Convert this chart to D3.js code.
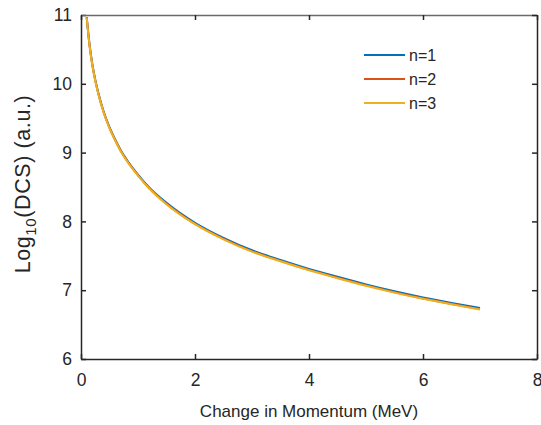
<!DOCTYPE html>
<html><head><meta charset="utf-8">
<script src="https://cdn.jsdelivr.net/npm/d3@7"></script>
<style>body{margin:0;background:#fff}svg{display:block}text{font-family:"Liberation Sans",Arial,Helvetica,sans-serif;fill:#262626}</style>
</head><body>
<script>
const xValues = [0.1,0.15,0.2,0.25,0.3,0.4,0.5,0.6,0.7,0.8,1.0,1.2,1.5,2,2.5,3,3.5,4,4.5,5,5.5,6,6.5,7];
const n1 = [10.97,10.57,10.28,10.06,9.88,9.59,9.37,9.19,9.03,8.90,8.68,8.49,8.27,7.98,7.76,7.58,7.44,7.31,7.195,7.085,6.985,6.895,6.815,6.74];
const n2 = [10.96,10.56,10.27,10.05,9.87,9.58,9.36,9.18,9.02,8.89,8.67,8.48,8.255,7.965,7.745,7.565,7.425,7.295,7.18,7.07,6.97,6.88,6.80,6.725];
const n3 = [10.96,10.555,10.265,10.045,9.865,9.575,9.355,9.175,9.015,8.885,8.665,8.475,8.25,7.96,7.74,7.56,7.42,7.29,7.175,7.065,6.965,6.875,6.795,6.72];
const seriesNames = ["n=1","n=2","n=3"];
const colors = ["#0072BD","#D95319","#EDB120"];
const xTicks = [0,2,4,6,8];
const yTicks = [6,7,8,9,10,11];

const W=541,H=425, L=81, R=537, T=15, B=359;
const svg=d3.select("body").append("svg").attr("width",W).attr("height",H);
const x=d3.scaleLinear().domain([0,8]).range([L,R]);
const y=d3.scaleLinear().domain([6,11]).range([B,T]);
const ax="#262626";
const fmt=d3.format("d");

svg.append("g").attr("transform",`translate(0,${B})`).call(d3.axisBottom(x).tickValues(xTicks).tickFormat(fmt).tickSize(-5).tickSizeOuter(0))
  .call(g=>{g.select(".domain").attr("stroke",ax).attr("stroke-width",1.5);g.selectAll("line").attr("stroke",ax).attr("stroke-width",1.5);g.selectAll("text").attr("font-size",17.5).attr("fill",ax).attr("dy","0.71em").attr("y",15);});
svg.append("g").attr("transform",`translate(${L},0)`).call(d3.axisLeft(y).tickValues(yTicks).tickFormat(fmt).tickSize(-5).tickSizeOuter(0))
  .call(g=>{g.select(".domain").attr("stroke",ax).attr("stroke-width",1.5);g.selectAll("line").attr("stroke",ax).attr("stroke-width",1.5);g.selectAll("text").attr("font-size",17.5).attr("fill",ax).attr("x",-9);});
svg.append("g").attr("transform",`translate(0,${T})`).call(d3.axisTop(x).tickValues(xTicks).tickSize(-5).tickFormat("").tickSizeOuter(0))
  .call(g=>{g.select(".domain").attr("stroke","#6a6a6a").attr("stroke-width",1.5);g.selectAll("line").attr("stroke",ax).attr("stroke-width",1.5);});
svg.append("g").attr("transform",`translate(${R},0)`).call(d3.axisRight(y).tickValues(yTicks).tickSize(-5).tickFormat("").tickSizeOuter(0))
  .call(g=>{g.select(".domain").attr("stroke",ax).attr("stroke-width",1.5);g.selectAll("line").attr("stroke",ax).attr("stroke-width",1.5);});

const line=d3.line().x(d=>x(d[0])).y(d=>y(d[1])).curve(d3.curveMonotoneX);
[n1,n2,n3].forEach((s,i)=>{
  svg.append("path").datum(xValues.map((v,j)=>[v,s[j]])).attr("d",line).attr("fill","none").attr("stroke",colors[i]).attr("stroke-width",2);
});

seriesNames.forEach((nm,i)=>{
  const yy=55+i*24;
  svg.append("line").attr("x1",364).attr("x2",405).attr("y1",yy).attr("y2",yy).attr("stroke",colors[i]).attr("stroke-width",2);
  svg.append("text").attr("x",409).attr("y",yy).attr("dy","0.36em").attr("font-size",16).text(nm);
});

svg.append("text").attr("x",(L+R)/2).attr("y",417).attr("text-anchor","middle").attr("font-size",17).text("Change in Momentum (MeV)");
const yl=svg.append("text").attr("transform",`translate(30,184) rotate(-90)`).attr("text-anchor","middle").attr("font-size",21.5).attr("letter-spacing",0.6);
yl.append("tspan").text("Log");
yl.append("tspan").attr("font-size",15).attr("dy",6).text("10");
yl.append("tspan").attr("dy",-6).text("(DCS) (a.u.)");
</script>
</body></html>
